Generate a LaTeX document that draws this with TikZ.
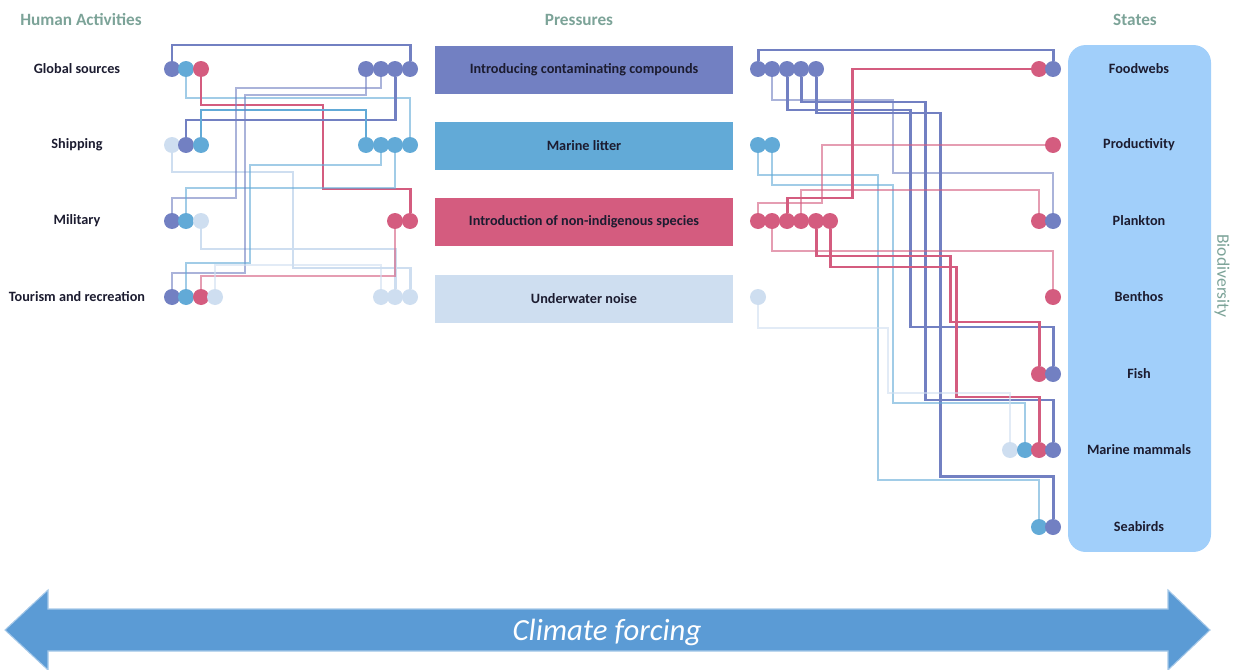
\documentclass[tikz,border=0pt]{standalone}
\usepackage{fontspec}
\setmainfont{Carlito}
\usepackage{xcolor}
\usetikzlibrary{backgrounds}

\definecolor{contam}{RGB}{114,128,194}
\definecolor{litter}{RGB}{98,170,215}
\definecolor{nis}{RGB}{212,92,127}
\definecolor{noise}{RGB}{206,222,240}
\definecolor{statebg}{RGB}{161,207,250}
\definecolor{headtxt}{RGB}{124,163,152}
\definecolor{labeltxt}{RGB}{28,28,48}
\definecolor{climate}{RGB}{91,155,213}

\begin{document}
\begin{tikzpicture}[
    x=0.02cm, y=-0.02cm,
    every node/.style={font=\fontsize{8.1}{9.5}\selectfont\bfseries, text=labeltxt},
    head/.style={font=\fontsize{9.8}{11}\selectfont\bfseries, text=headtxt},
    dot/.style={circle, fill=#1, inner sep=0pt, minimum size=0.32cm},
    pbox/.style={fill=#1, inner sep=0pt, minimum width=5.96cm, minimum height=0.96cm},
    strong/.style={draw=#1, line width=1.7pt},
    weak/.style={draw=#1, line width=0.8pt, opacity=0.6}
  ]
    \useasboundingbox (0,0) rectangle (1236,669);

    % Headers
    \node[head] (hact) at (81,20) {Human Activities};
    \node[head] (hpres) at (579,20) {Pressures};
    \node[head] (hstate) at (1135,20) {States};

    % Human activities
    \node (gsrc) at (77,69) {Global sources};
    \node (ship) at (77,145) {Shipping};
    \node (mil) at (77,221) {Military};
    \node (tour) at (77,297) {Tourism and recreation};

    % Pressures
    \node[pbox=contam] (pcont) at (584,70) {Introducing contaminating compounds};
    \node[pbox=litter] (plit) at (584,146) {Marine litter};
    \node[pbox=nis] (pnis) at (584,222) {Introduction of non-indigenous species};
    \node[pbox=noise] (pnoise) at (584,299) {Underwater noise};

    % States
    \node[fill=statebg, rounded corners=0.35cm, minimum width=2.86cm, minimum height=10.14cm] (states) at (1139.5,298.5) {};
    \node (fw) at (1139,69) {Foodwebs};
    \node (prod) at (1139,145) {Productivity};
    \node (plank) at (1139,221) {Plankton};
    \node (benth) at (1139,297) {Benthos};
    \node (fish) at (1139,374) {Fish};
    \node (mamm) at (1139,450) {Marine mammals};
    \node (bird) at (1139,527) {Seabirds};
    \node[head, font=\fontsize{10}{12}\selectfont, rotate=-90] (biodiv) at (1222,276) {Biodiversity};

    % Activity dots
    \node[dot=contam] (gs1) at (172,69) {};
    \node[dot=litter] (gs2) at (186,69) {};
    \node[dot=nis] (gs3) at (201,69) {};
    \node[dot=noise] (sh1) at (172,145) {};
    \node[dot=contam] (sh2) at (186,145) {};
    \node[dot=litter] (sh3) at (201,145) {};
    \node[dot=contam] (mi1) at (172,221) {};
    \node[dot=litter] (mi2) at (186,221) {};
    \node[dot=noise] (mi3) at (201,221) {};
    \node[dot=contam] (to1) at (172,297) {};
    \node[dot=litter] (to2) at (186,297) {};
    \node[dot=nis] (to3) at (201,297) {};
    \node[dot=noise] (to4) at (215,297) {};

    % Pressure input dots
    \node[dot=contam] (ci1) at (366,69) {};
    \node[dot=contam] (ci2) at (381,69) {};
    \node[dot=contam] (ci3) at (395,69) {};
    \node[dot=contam] (ci4) at (410,69) {};
    \node[dot=litter] (li1) at (366,145) {};
    \node[dot=litter] (li2) at (381,145) {};
    \node[dot=litter] (li3) at (395,145) {};
    \node[dot=litter] (li4) at (410,145) {};
    \node[dot=nis] (ni1) at (395,221) {};
    \node[dot=nis] (ni2) at (410,221) {};
    \node[dot=noise] (wi1) at (381,297) {};
    \node[dot=noise] (wi2) at (395,297) {};
    \node[dot=noise] (wi3) at (410,297) {};

    % Pressure output dots
    \node[dot=contam] (co1) at (758,69) {};
    \node[dot=contam] (co2) at (772,69) {};
    \node[dot=contam] (co3) at (787,69) {};
    \node[dot=contam] (co4) at (801,69) {};
    \node[dot=contam] (co5) at (816,69) {};
    \node[dot=litter] (lo1) at (758,145) {};
    \node[dot=litter] (lo2) at (772,145) {};
    \node[dot=nis] (no1) at (758,221) {};
    \node[dot=nis] (no2) at (772,221) {};
    \node[dot=nis] (no3) at (787,221) {};
    \node[dot=nis] (no4) at (801,221) {};
    \node[dot=nis] (no5) at (816,221) {};
    \node[dot=nis] (no6) at (830,221) {};
    \node[dot=noise] (wo1) at (758,297) {};

    % State dots
    \node[dot=nis] (fwn) at (1039,69) {};
    \node[dot=contam] (fwc) at (1053,69) {};
    \node[dot=nis] (prn) at (1053,145) {};
    \node[dot=nis] (pln) at (1039,221) {};
    \node[dot=contam] (plc) at (1053,221) {};
    \node[dot=nis] (ben) at (1053,297) {};
    \node[dot=nis] (fin) at (1039,374) {};
    \node[dot=contam] (fic) at (1053,374) {};
    \node[dot=noise] (mmw) at (1010,450) {};
    \node[dot=litter] (mml) at (1025,450) {};
    \node[dot=nis] (mmn) at (1039,450) {};
    \node[dot=contam] (mmc) at (1053,450) {};
    \node[dot=litter] (sbl) at (1039,527) {};
    \node[dot=contam] (sbc) at (1053,527) {};

    \begin{scope}[on background layer]
    % Activities -> pressures
    \draw[strong=contam] (gs1) -- (gs1 |- 0,45) -| (ci4);
    \draw[weak=litter] (gs2) -- (gs2 |- 0,98) -| (li4);
    \draw[strong=nis] (gs3) -- (gs3 |- 0,105) -- (323,105) -- (323,189) -| (ni2);
    \draw[strong=noise] (sh1) -- (sh1 |- 0,172) -- (293,172) -- (293,268) -| (wi3);
    \draw[strong=contam] (sh2) -- (sh2 |- 0,120) -| (ci3);
    \draw[strong=litter] (sh3) -- (sh3 |- 0,110) -| (li1);
    \draw[weak=contam] (mi1) -- (mi1 |- 0,198) -- (236,198) -- (236,88) -| (ci2);
    \draw[weak=litter] (mi2) -- (mi2 |- 0,188) -| (li3);
    \draw[strong=noise] (mi3) -- (mi3 |- 0,249) -| (wi2);
    \draw[weak=contam] (to1) -- (to1 |- 0,273) -- (245,273) -- (245,95) -| (ci1);
    \draw[weak=litter] (to2) -- (to2 |- 0,263) -- (250,263) -- (250,165) -| (li2);
    \draw[weak=nis] (to3) -- (to3 |- 0,276) -| (ni1);
    \draw[weak=noise] (to4) -- (to4 |- 0,265) -| (wi1);

    % Pressures -> states
    \draw[strong=contam] (co1) -- (co1 |- 0,50) -| (fwc);
    \draw[weak=contam] (co2) -- (co2 |- 0,100) -- (893,100) -- (893,173) -| (plc);
    \draw[strong=contam] (co3) -- (co3 |- 0,110) -- (910,110) -- (910,327) -| (fic);
    \draw[strong=contam] (co4) -- (co4 |- 0,102) -- (925,102) -- (925,400) -| (mmc);
    \draw[strong=contam] (co5) -- (co5 |- 0,113) -- (940,113) -- (940,476) -| (sbc);
    \draw[weak=litter] (lo1) -- (lo1 |- 0,175) -- (878,175) -- (878,480) -| (sbl);
    \draw[weak=litter] (lo2) -- (lo2 |- 0,185) -- (893,185) -- (893,403) -| (mml);
    \draw[weak=nis] (no1) -- (no1 |- 0,203) -- (822,203) -- (822,145) -- (prn);
    \draw[weak=nis] (no2) -- (no2 |- 0,251) -| (ben);
    \draw[strong=nis] (no3) -- (no3 |- 0,198) -- (852,198) -- (852,69) -- (fwn);
    \draw[weak=nis] (no4) -- (no4 |- 0,190) -| (pln);
    \draw[strong=nis] (no5) -- (no5 |- 0,256) -- (950,256) -- (950,322) -| (fin);
    \draw[strong=nis] (no6) -- (no6 |- 0,267) -- (956,267) -- (956,397) -| (mmn);
    \draw[weak=noise] (wo1) -- (wo1 |- 0,328) -- (888,328) -- (888,393) -| (mmw);
    \end{scope}

    % Climate forcing arrow
    \fill[climate, draw=climate!55!white, line width=0.6pt]
      (5,630) -- (48,590) -- (48,609) -- (1168,609) -- (1168,590) -- (1210,630)
      -- (1168,670) -- (1168,651) -- (48,651) -- (48,670) -- cycle;
    \node[font=\fontsize{17.5}{20}\selectfont\itshape, text=white] (climate) at (607,632) {Climate forcing};

  \end{tikzpicture}
\end{document}
